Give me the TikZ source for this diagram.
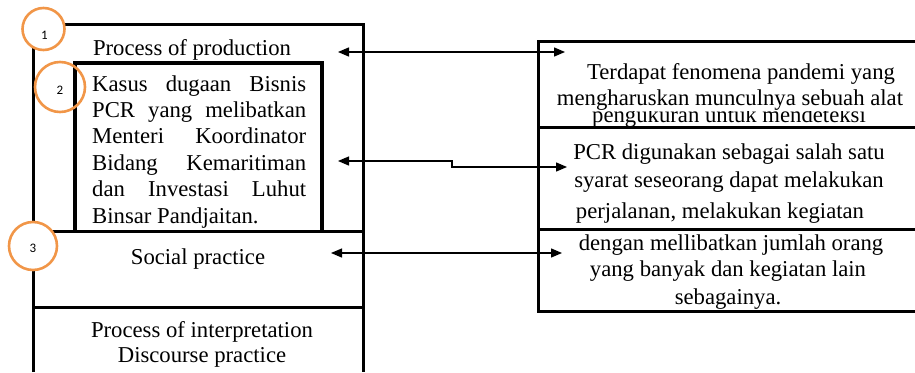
\documentclass[tikz,border=0pt]{standalone}
\usepackage{fontspec}
\setmainfont{Liberation Serif}
\newfontfamily\numfont{Carlito}
\usetikzlibrary{arrows.meta,positioning}
\definecolor{ringorange}{RGB}{241,150,72}
\newcommand{\jline}[1]{\makebox[214pt][s]{#1}}

\begin{document}
\begin{tikzpicture}[x=1pt,y=-1pt,
  every node/.style={font=\fontsize{22.7}{26.4}\selectfont,inner sep=0pt},
  ln/.style={anchor=base},
  frame/.style={line width=3pt},
  inframe/.style={line width=4pt},
  ring/.style={draw=ringorange,line width=2.6pt,circle,minimum size=#1},
  num/.style={font=\numfont\fontsize{13}{14}\selectfont},
  lnk/.style={{Triangle[length=11pt,width=9pt]}-{Triangle[length=11pt,width=9pt]},line width=1.3pt}
]
\useasboundingbox (0,0) rectangle (915,372);

% left column
\draw[frame] (33,372) -- (33,24) -- (363,24) -- (363,372);
\draw[frame] (33,231) -- (363,231);
\draw[frame] (33,307) -- (363,307);
\draw[inframe] (75,231) -- (75,63) -- (322,63) -- (322,231);

\node[ln] (prod) at (192,55) {Process of production};
\node[anchor=base west] (case) at (92,91) {\parbox[t]{214pt}{%
  \jline{Kasus dugaan Bisnis}\\
  \jline{PCR yang melibatkan}\\
  \jline{Menteri Koordinator}\\
  \jline{Bidang Kemaritiman}\\
  \jline{dan Investasi Luhut}\\
  Binsar Pandjaitan.}};
\node[ln] (social) at (198,264) {Social practice};
\node[ln] (interp) at (202,337) {Process of interpretation};
\node[ln] (disc) at (202,362) {Discourse practice};

% right column
\draw[frame] (915,41) -- (538,41) -- (538,311) -- (915,311);
\draw[frame] (538,127) -- (915,127);
\draw[frame] (538,229) -- (915,229);

\node[ln] (r1a) at (741,79) {Terdapat fenomena pandemi yang};
\node[ln] (r1b) at (730,105) {mengharuskan munculnya sebuah alat};
\begin{scope}
  % third line shows only its lower part
  \clip (538,111) rectangle (915,126);
  \node[ln] (r1c) at (729,122) {pengukuran untuk mendeteksi};
\end{scope}
\node[ln] (r2a) at (729,159) {PCR digunakan sebagai salah satu};
\node[ln] (r2b) at (729,187) {syarat seseorang dapat melakukan};
\node[ln] (r2c) at (720,218) {perjalanan, melakukan kegiatan};
\node[ln] (r3a) at (731,250) {dengan mellibatkan jumlah orang};
\node[ln] (r3b) at (728,276) {yang banyak dan kegiatan lain};
\node[ln] (r3c) at (728,304) {sebagainya.};

% links
\coordinate (l1) at (338,52);  \coordinate (m1) at (565,52);
\coordinate (l2) at (338,161); \coordinate (m2) at (567,167);
\coordinate (l3) at (331,253); \coordinate (m3) at (562,253);
\draw[lnk] (l1) -- (m1);
\draw[lnk] (l2) -- (452,161) -- (452,167) -- (m2);
\draw[lnk] (l3) -- (m3);

% numbered rings
\node[ring=42pt,fill=white] (c1) at (43.5,29) {};
\node[num] (n1) at ([shift={(1,6)}]c1.center) {1};
\node[ring=50pt] (c2) at (60,87) {};
\node[num] (n2) at ([shift={(0,3)}]c2.center) {2};
\node[ring=48pt,fill=white] (c3) at (33,246) {};
\node[num] (n3) at ([shift={(0,2)}]c3.center) {3};
\end{tikzpicture}
\end{document}
